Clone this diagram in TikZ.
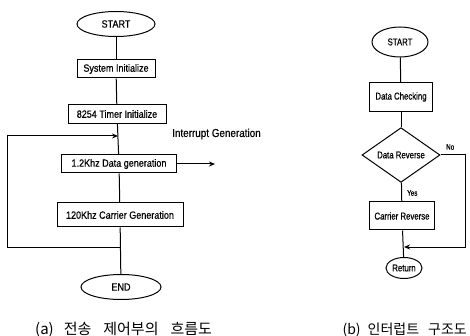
\documentclass[tikz,border=0pt]{standalone}
\usepackage{fontspec}
\setmainfont{Liberation Sans}[FakeStretch=0.86, FakeBold=0.5]
\newfontfamily\narrowfont{Liberation Sans}[FakeStretch=0.78, FakeBold=0.5]
\newfontfamily\krfont{Noto Sans CJK KR}
\usetikzlibrary{shapes.geometric,arrows.meta}

\tikzset{
  flow/.style={line width=1pt, draw=black},
  lbl/.style={font=\fontsize{10.5}{12}\selectfont},
  rlbl/.style={font=\narrowfont\fontsize{10}{12}\selectfont},
  procbox/.style={flow, rectangle, inner sep=0pt},
  termin/.style={flow, ellipse, inner sep=0pt},
  decide/.style={flow, diamond, inner sep=0pt},
  link/.style={flow},
  tip/.style={flow, -{Stealth[length=6pt,width=5pt]}},
  note/.style={inner sep=0pt},
  caption/.style={font=\krfont\fontsize{15}{17}\selectfont, inner sep=0pt}
}

\begin{document}
\begin{tikzpicture}[x=1pt, y=-1pt]
  \useasboundingbox (0,0) rectangle (470,336);

  % (a) transmission control flow
  \node[termin, lbl, minimum width=78pt, minimum height=25pt] (st) at (116,24) {START};
  \node[procbox, lbl, minimum width=78pt, minimum height=18pt] (sys) at (116,69) {System Initialize};
  \node[procbox, lbl, minimum width=98pt, minimum height=19pt] (tmr) at (117,114) {8254 Timer Initialize};
  \node[procbox, lbl, minimum width=115pt, minimum height=18pt] (dat) at (119,164) {1.2Khz Data generation};
  \node[procbox, lbl, minimum width=126pt, minimum height=24pt] (car) at (120,215) {120Khz Carrier Generation};
  \node[termin, lbl, minimum width=80pt, minimum height=25pt] (en) at (121,287) {END};

  \draw[link] (st) -- (sys);
  \draw[link] (sys) -- (tmr);
  \draw[link] (tmr) -- (dat);
  \draw[link] (dat) -- (car);
  \draw[link] (car) -- (en);

  % loop back from below the carrier stage to above the data stage
  \coordinate (lpb) at (120,247);
  \coordinate (lpt) at (118,136);
  \draw[tip] (lpb) -- (7,247) -- (7,136) -- (lpt);

  % interrupt output
  \node[note, font=\fontsize{11.5}{13}\selectfont, anchor=west] (irq) at (172,134) {Interrupt Generation};
  \coordinate (irqend) at (215,164);
  \draw[tip] (dat.east) -- (irqend);

  % (b) interrupt structure
  \node[termin, rlbl, minimum width=56pt, minimum height=30pt] (st2) at (400,42) {START};
  \node[procbox, rlbl, minimum width=63pt, minimum height=29pt] (chk) at (401,97) {Data Checking};
  \node[decide, rlbl, minimum width=78pt, minimum height=54pt] (rev) at (401,155) {Data Reverse};
  \node[procbox, rlbl, minimum width=65pt, minimum height=28pt] (crv) at (402,216) {Carrier Reverse};
  \node[termin, rlbl, minimum width=36pt, minimum height=21pt] (ret) at (404,268) {Return};

  \draw[link] (st2) -- (chk);
  \draw[link] (chk) -- (rev);
  \draw[link] (rev) -- (crv);
  \draw[link] (crv) -- (ret);

  \node[note, anchor=west, font=\narrowfont\fontsize{8}{9}\selectfont] (yes) at (407,193) {Yes};
  \node[note, anchor=west, font=\narrowfont\fontsize{8}{9}\selectfont] (no) at (446,147) {No};

  \coordinate (nob) at (404,247);
  \draw[tip] (rev.east) -- (465,155) -- (465,247) -- (nob);

  % captions
  \node[caption, anchor=west] (capa) at (35,330) {(a)\hspace{10pt}전송\hspace{12pt}제어부의\hspace{12pt}흐름도};
  \node[caption, font=\krfont\fontsize{14}{16}\selectfont, anchor=east] (capb) at (467,330) {(b)\hspace{7pt}인터럽트\hspace{9pt}구조도};
\end{tikzpicture}
\end{document}
